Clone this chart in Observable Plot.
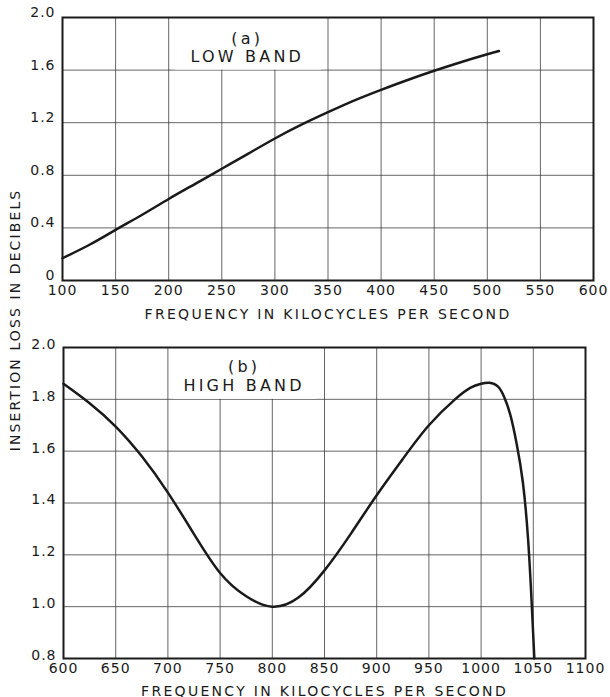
<!DOCTYPE html>
<html>
<head>
<meta charset="utf-8">
<script src="https://cdn.jsdelivr.net/npm/d3@7"></script>
<script src="https://cdn.jsdelivr.net/npm/@observablehq/plot@0.6"></script>
<style>
  html, body { margin: 0; padding: 0; background: #fff; }
  #wrap { position: relative; width: 610px; height: 697px; font-family: "DejaVu Sans", sans-serif; color: #1a1a1a; overflow: hidden; }
  #top, #bottom { position: absolute; left: 0; }
  #top { top: 0; }
  #bottom { top: 325px; }
  #ytitle { position: absolute; left: 15px; top: 320px; transform: translate(-50%, -50%) rotate(-90deg);
            white-space: nowrap; font-size: 14px; letter-spacing: 2.1px; line-height: 1; }
  svg g[aria-label="x-axis label"] text { letter-spacing: 2.3px; }
  svg g[aria-label="x-axis tick label"] text, svg g[aria-label="y-axis tick label"] text { letter-spacing: 1px; }
</style>
</head>
<body>
<div id="wrap">
  <div id="top"></div>
  <div id="bottom"></div>
  <div id="ytitle">INSERTION LOSS IN DECIBELS</div>
</div>
<script>
// ---- data ----
const lowFreq = [100, 125, 150, 175, 200, 225, 250, 275, 300, 325, 350, 375, 400, 425, 450, 475, 500, 511];
const lowLoss = [0.17, 0.27, 0.385, 0.50, 0.62, 0.735, 0.85, 0.965, 1.08, 1.185, 1.28, 1.37, 1.45, 1.525, 1.595, 1.66, 1.72, 1.745];

const highFreq = [600, 625, 650, 675, 700, 725, 750, 775, 800, 825, 850, 875, 900, 925, 950, 975, 990, 1000, 1008, 1016, 1022, 1028, 1034, 1040, 1045, 1048.5, 1051];
const highLoss = [1.86, 1.785, 1.695, 1.58, 1.44, 1.28, 1.13, 1.04, 1.0, 1.035, 1.14, 1.28, 1.43, 1.57, 1.70, 1.80, 1.845, 1.86, 1.864, 1.85, 1.81, 1.74, 1.63, 1.48, 1.26, 1.01, 0.8];

const lowXTicks = [100, 150, 200, 250, 300, 350, 400, 450, 500, 550, 600];
const lowYTicks = [0, 0.4, 0.8, 1.2, 1.6, 2.0];
const highXTicks = [600, 650, 700, 750, 800, 850, 900, 950, 1000, 1050, 1100];
const highYTicks = [0.8, 1.0, 1.2, 1.4, 1.6, 1.8, 2.0];

const xTitle = "FREQUENCY IN KILOCYCLES PER SECOND";
const lowLabels = ["(a)", "LOW BAND"];
const highLabels = ["(b)", "HIGH BAND"];

const lowData = lowFreq.map((f, i) => ({f, loss: lowLoss[i]}));
const highData = highFreq.map((f, i) => ({f, loss: highLoss[i]}));

const ink = "#1a1a1a";
const gridStyle = {stroke: "#333", strokeOpacity: 0.75, strokeWidth: 1};
const fmtY = d => d === 0 ? "0" : d.toFixed(1);

const lowPlot = Plot.plot({
  width: 610, height: 325,
  marginLeft: 62, marginRight: 17, marginTop: 17, marginBottom: 45,
  style: {fontFamily: "DejaVu Sans, sans-serif", fontSize: "14px", color: ink, background: "white", overflow: "visible"},
  x: {domain: [100, 600]},
  y: {domain: [0, 2]},
  marks: [
    Plot.gridX(lowXTicks, gridStyle),
    Plot.gridY(lowYTicks, gridStyle),
    Plot.rect([0], {x1: 206, x2: 344, y1: 1.6, y2: 2.0, fill: "white"}),
    Plot.axisX(lowXTicks, {tickSize: 0, tickPadding: 5, tickFormat: d => `${d}`, label: xTitle, labelAnchor: "center", labelOffset: 38, labelArrow: "none"}),
    Plot.axisY(lowYTicks, {tickSize: 0, tickPadding: 7, dy: -5, tickFormat: fmtY, label: null}),
    Plot.line(lowData, {x: "f", y: "loss", curve: "natural", stroke: ink, strokeWidth: 2.5}),
    Plot.frame({stroke: ink, strokeWidth: 2}),
    Plot.text([lowLabels[0]], {x: 274, y: 1.84, text: d => d, fontSize: 16, fill: ink}),
    Plot.text([lowLabels[1]], {x: 274, y: 1.70, text: d => d, fontSize: 16, fill: ink})
  ]
});

const highPlot = Plot.plot({
  width: 610, height: 372,
  marginLeft: 63, marginRight: 25, marginTop: 22, marginBottom: 39,
  style: {fontFamily: "DejaVu Sans, sans-serif", fontSize: "14px", color: ink, background: "white", overflow: "visible"},
  x: {domain: [600, 1100]},
  y: {domain: [0.8, 2.0]},
  marks: [
    Plot.gridX(highXTicks, gridStyle),
    Plot.gridY(highYTicks, gridStyle),
    Plot.rect([0], {x1: 706, x2: 843, y1: 1.8, y2: 2.0, fill: "white"}),
    Plot.axisX(highXTicks, {tickSize: 0, tickPadding: 5, tickFormat: d => `${d}`, label: xTitle, labelAnchor: "center", labelOffset: 37, labelArrow: "none"}),
    Plot.axisY(highYTicks, {tickSize: 0, tickPadding: 7, dy: -3, tickFormat: fmtY, label: null}),
    Plot.line(highData, {x: "f", y: "loss", curve: "natural", stroke: ink, strokeWidth: 2.5}),
    Plot.frame({stroke: ink, strokeWidth: 2}),
    Plot.text([highLabels[0]], {x: 773, y: 1.927, text: d => d, fontSize: 16, fill: ink}),
    Plot.text([highLabels[1]], {x: 773, y: 1.851, text: d => d, fontSize: 16, fill: ink})
  ]
});

for (const svg of [lowPlot, highPlot]) {
  d3.select(svg).selectAll('g[aria-label="text"] text').attr("letter-spacing", "3.2px");
}

document.getElementById("top").appendChild(lowPlot);
document.getElementById("bottom").appendChild(highPlot);
</script>
</body>
</html>
